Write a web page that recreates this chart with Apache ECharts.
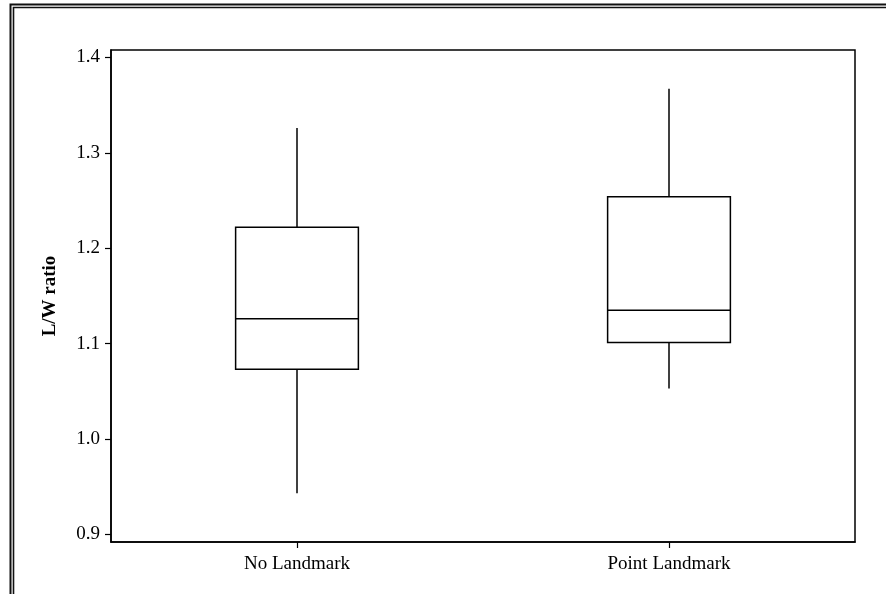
<!DOCTYPE html>
<html>
<head>
<meta charset="utf-8">
<title>L/W ratio</title>
<script src="https://cdn.jsdelivr.net/npm/echarts@6/dist/echarts.min.js"></script>
<style>
  html, body { margin: 0; padding: 0; background: #fff; }
  #main { width: 886px; height: 594px; }
</style>
</head>
<body>
<div id="main"></div>
<script>
// categories and five-number summaries
var categories = ['No Landmark', 'Point Landmark'];
var lowWhisker = [0.943, 1.053];
var q1 = [1.073, 1.101];
var median = [1.126, 1.135];
var q3 = [1.222, 1.254];
var highWhisker = [1.326, 1.367];
var yTicks = [0.9, 1.0, 1.1, 1.2, 1.3, 1.4];

var font = 'Liberation Serif';
var chart = echarts.init(document.getElementById('main'));

var boxData = categories.map(function (c, i) {
  return [i, lowWhisker[i], q1[i], median[i], q3[i], highWhisker[i]];
});

// box without whisker caps, like the original
function renderBox(params, api) {
  var x = api.value(0);
  var pLow = api.coord([x, api.value(1)]);
  var pQ1 = api.coord([x, api.value(2)]);
  var pMed = api.coord([x, api.value(3)]);
  var pQ3 = api.coord([x, api.value(4)]);
  var pHigh = api.coord([x, api.value(5)]);
  var half = api.size([1, 0])[0] * 0.33 / 2;
  var cx = pMed[0];
  var st = { stroke: '#000', lineWidth: 1.5, fill: null };
  return {
    type: 'group',
    children: [
      { type: 'line', shape: { x1: cx, y1: pHigh[1], x2: cx, y2: pQ3[1] }, style: st },
      { type: 'line', shape: { x1: cx, y1: pQ1[1], x2: cx, y2: pLow[1] }, style: st },
      { type: 'rect', shape: { x: cx - half, y: pQ3[1], width: half * 2, height: pQ1[1] - pQ3[1] }, style: st },
      { type: 'line', shape: { x1: cx - half, y1: pMed[1], x2: cx + half, y2: pMed[1] }, style: st }
    ]
  };
}

var option = {
  backgroundColor: '#fff',
  animation: false,
  graphic: [
    // double frame line (cut at the right and bottom like the source)
    { type: 'rect', shape: { x: 10.5, y: 4.5, width: 920, height: 640 }, style: { fill: null, stroke: '#111', lineWidth: 2 } },
    { type: 'rect', shape: { x: 13.5, y: 7.5, width: 920, height: 640 }, style: { fill: null, stroke: '#111', lineWidth: 1.6 } }
  ],
  grid: {
    left: 111, right: 31, top: 50, bottom: 52,
    show: true, borderColor: '#000', borderWidth: 1.5, backgroundColor: 'transparent'
  },
  xAxis: {
    type: 'category',
    data: categories,
    boundaryGap: true,
    axisLine: { show: true, lineStyle: { color: '#000', width: 1.5 } },
    axisTick: { show: true, alignWithLabel: true, length: 6, lineStyle: { color: '#000', width: 1.2 } },
    axisLabel: { color: '#000', fontFamily: font, fontSize: 19, margin: 13 },
    splitLine: { show: false }
  },
  yAxis: {
    type: 'value',
    min: 0.892,
    max: 1.4077,
    name: 'L/W ratio',
    nameLocation: 'middle',
    nameGap: 51,
    nameTextStyle: { color: '#000', fontFamily: font, fontSize: 19, fontWeight: 'bold' },
    axisLine: { show: true, lineStyle: { color: '#000', width: 1.5 } },
    axisTick: { show: true, length: 6, customValues: yTicks, lineStyle: { color: '#000', width: 1.2 } },
    axisLabel: {
      color: '#000', fontFamily: font, fontSize: 19, margin: 11,
      customValues: yTicks,
      formatter: function (v) { return v.toFixed(1); }
    },
    splitLine: { show: false }
  },
  tooltip: { show: false },
  series: [{
    type: 'custom',
    renderItem: renderBox,
    encode: { x: 0, y: [1, 2, 3, 4, 5] },
    data: boxData
  }]
};

chart.setOption(option);
</script>
</body>
</html>
